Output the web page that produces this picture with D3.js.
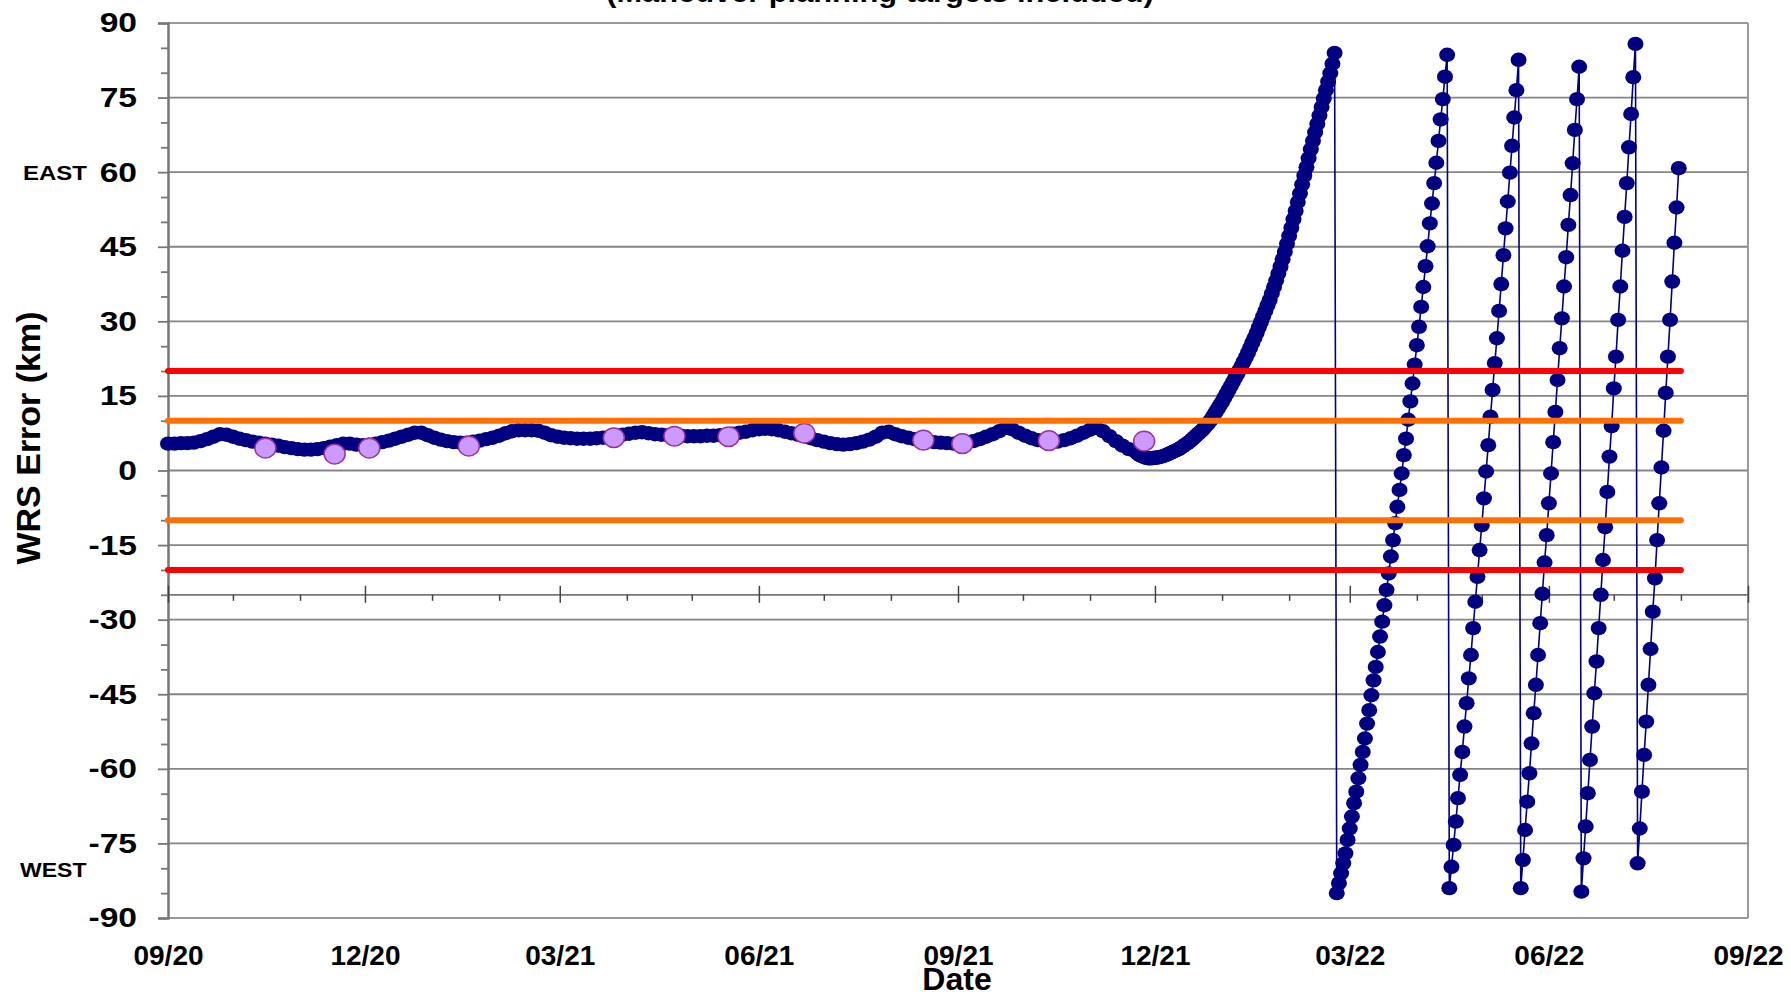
<!DOCTYPE html>
<html>
<head>
<meta charset="utf-8">
<script src="https://cdn.jsdelivr.net/npm/d3@7"></script>
<style>
  body { margin: 0; background: #fff; }
  svg { display: block; font-family: Arial, "Liberation Sans", sans-serif; font-weight: bold; }
</style>
</head>
<body>
<div id="chart"></div>
<script>
// WRS error (km), one value every 3 days from 09/01/2020
const bandStart = '2020-09-01';
const bandStepDays = 3;
const bandValues = [
    5.4, 5.4, 5.5, 5.5, 5.6, 5.9, 6.3, 6.8, 7.3, 7.2,
    6.8, 6.4, 6.1, 5.8, 5.6, 5.4, 5.2, 5.0, 4.7, 4.5,
    4.3, 4.2, 4.2, 4.3, 4.5, 4.8, 5.1, 5.4, 5.4, 5.2,
    5.1, 5.2, 5.4, 5.7, 6.0, 6.4, 6.8, 7.2, 7.6, 7.6,
    7.1, 6.6, 6.2, 5.9, 5.7, 5.6, 5.6, 5.8, 6.0, 6.3,
    6.6, 7.0, 7.5, 7.9, 8.1, 8.1, 8.1, 8.0, 7.6, 7.1,
    6.8, 6.6, 6.5, 6.4, 6.4, 6.4, 6.5, 6.6, 6.8, 7.0,
    7.2, 7.4, 7.6, 7.7, 7.5, 7.3, 7.2, 7.1, 7.0, 7.0,
    6.9, 6.9, 6.9, 7.0, 7.0, 7.1, 7.2, 7.4, 7.6, 7.8,
    8.1, 8.3, 8.4, 8.3, 8.1, 7.8, 7.5, 7.2, 6.9, 6.5,
    6.1, 5.8, 5.5, 5.3, 5.2, 5.3, 5.5, 5.8, 6.2, 6.8,
    7.6, 7.8, 7.3, 6.9, 6.6, 6.3, 6.1, 5.9, 5.7, 5.6,
    5.5, 5.4, 5.4, 5.6, 5.9, 6.3, 6.8, 7.3, 7.9, 8.6,
    8.3, 7.6, 7.0, 6.5, 6.1, 5.8, 5.7, 5.8, 6.1, 6.5,
    7.0, 7.6, 8.2, 8.6, 7.9, 6.9, 5.9, 5.0, 4.3, 3.8
];

// daily values from 11/23/2021: the drift, then each wrap from WEST to EAST
const driftStart = '2021-11-23';
const driftValues = [
    3.4, 3.1, 2.9, 2.7, 2.55, 2.45, 2.45, 2.5, 2.55, 2.6,
    2.7, 2.8, 2.95, 3.1, 3.3, 3.5, 3.7, 3.9, 4.1, 4.3,
    4.6, 4.9, 5.2, 5.5, 5.8, 6.2, 6.6, 7.0, 7.4, 7.8,
    8.2, 8.7, 9.2, 9.7, 10.3, 11.0, 11.7, 12.4, 13.1, 13.8,
    14.6, 15.4, 16.2, 17.0, 17.8, 18.6, 19.4, 20.2, 21.0, 21.9,
    22.8, 23.7, 24.7, 25.7, 26.7, 27.7, 28.8, 29.9, 31.0, 32.1,
    33.2, 34.3, 35.6, 36.9, 38.2, 39.6, 41.0, 42.5, 44.0, 45.6,
    47.2, 48.8, 50.5, 52.2, 54.0, 55.7, 57.5, 59.3, 61.0, 62.8,
    64.6, 66.3, 68.0, 69.7, 71.4, 73.1, 74.8, 76.5, 78.2, 79.9,
    81.8, 84.0
];
const wrap1Values = [
    -85.0, -83.0, -81.0, -79.0, -77.0, -74.3, -72.0, -69.6, -66.9, -64.6,
    -61.9, -59.2, -56.6, -53.9, -50.9, -48.2, -45.2, -42.2, -39.5, -36.5,
    -33.4, -30.4, -27.1, -24.0, -20.7, -17.3, -14.0, -10.6, -7.3, -3.9,
    -0.6, 3.1, 6.4, 10.2, 13.9, 17.5, 21.3, 25.2, 28.9, 32.9,
    36.9, 41.1, 45.1, 49.7, 53.7, 57.8, 61.9, 66.3, 70.6, 74.7,
    79.2, 83.6
];
const wrap2Values = [
    -84.0, -79.7, -75.3, -70.6, -65.9, -61.2, -56.6, -51.5, -46.8, -41.8,
    -37.1, -31.7, -26.4, -21.4, -16.0, -11.0, -5.6, -0.2, 5.1, 10.8,
    16.2, 21.6, 26.6, 32.1, 37.5, 43.3, 48.7, 54.1, 59.9, 65.3,
    71.0, 76.5, 82.6
];
const wrap3Values = [
    -84.0, -78.3, -72.3, -66.6, -60.9, -54.9, -48.8, -43.1, -37.1, -30.7,
    -24.8, -18.5, -13.0, -6.6, -0.6, 5.7, 11.8, 18.2, 24.6, 30.6,
    37.0, 42.9, 49.4, 55.4, 61.8, 68.5, 74.7, 81.2
];
const wrap4Values = [
    -84.7, -78.0, -71.6, -64.9, -58.2, -51.5, -44.8, -38.4, -31.7, -25.0,
    -18.0, -11.4, -4.3, 2.8, 8.9, 16.5, 22.9, 30.3, 37.0, 44.2,
    51.0, 57.8, 65.0, 71.7, 79.1, 85.8
];
const wrap5Values = [
    -79.0, -72.0, -64.6, -57.2, -50.5, -43.1, -35.9, -28.4, -21.7, -14.0,
    -6.6, 0.6, 8.0, 15.6, 22.9, 30.3, 38.0, 45.8, 52.9, 60.8
];

// maneuver planning targets
const targetDates = ['2020-10-16', '2020-11-17', '2020-12-03', '2021-01-18', '2021-03-26', '2021-04-23',
    '2021-05-18', '2021-06-22', '2021-08-16', '2021-09-03', '2021-10-13', '2021-11-26'];
const targetValues = [4.5, 3.3, 4.5, 4.9, 6.6, 6.9, 6.8, 7.5, 6.1, 5.4, 6.0, 5.9];

// tolerance lines
const limitValues = [20, 10, -10, -20];
const limitColors = ['#ff0000', '#ff7000', '#ff7000', '#ff0000'];
const limitStart = '2020-09-01';
const limitEnd = '2022-08-01';

const yTicks = [90, 75, 60, 45, 30, 15, 0, -15, -30, -45, -60, -75, -90];
const xStart = '2020-09-01';
const xEnd = '2022-09-01';
const titleText = '(Maneuver planning targets included)';

const parseDate = d3.timeParse('%Y-%m-%d');

function buildSeries() {
    const rows = [];
    bandValues.forEach((v, i) => {
        rows.push({ date: d3.timeDay.offset(parseDate(bandStart), i * bandStepDays), value: v });
    });
    const daily = [].concat(driftValues, wrap1Values, wrap2Values, wrap3Values, wrap4Values, wrap5Values);
    daily.forEach((v, i) => {
        rows.push({ date: d3.timeDay.offset(parseDate(driftStart), i), value: v });
    });
    return rows;
}

// widen a label a little, the reference text is stretched sideways
function stretch(sel, factor) {
    sel.each(function () {
        const w = this.getComputedTextLength();
        d3.select(this)
            .attr('textLength', w * factor)
            .attr('lengthAdjust', 'spacingAndGlyphs');
    });
}

function drawChart() {
    const width = 1791;
    const height = 992;
    const area = { left: 168, right: 1748, top: 23, bottom: 918 };

    const series = buildSeries();
    const targets = targetDates.map((d, i) => ({ date: parseDate(d), value: targetValues[i] }));

    const xScale = d3.scaleTime()
        .domain([parseDate(xStart), parseDate(xEnd)])
        .range([area.left, area.right]);
    const yScale = d3.scaleLinear().domain([-90, 90]).range([area.bottom, area.top]);

    const svg = d3.select('#chart')
        .append('svg')
        .attr('width', width)
        .attr('height', height);

    // title, mostly cut off at the top of the picture
    svg.append('text')
        .attr('x', 880)
        .attr('y', 2)
        .attr('text-anchor', 'middle')
        .style('font-size', '28px')
        .text(titleText)
        .call(stretch, 1.1);

    // horizontal gridlines
    svg.append('g')
        .selectAll('line')
        .data(yTicks)
        .join('line')
        .attr('x1', area.left)
        .attr('x2', area.right)
        .attr('y1', (d) => yScale(d))
        .attr('y2', (d) => yScale(d))
        .attr('stroke', (d) => (d === 90 || d === -90) ? '#999' : '#858585')
        .attr('stroke-width', 1.8);

    // right border
    svg.append('line')
        .attr('x1', area.right).attr('x2', area.right)
        .attr('y1', area.top).attr('y2', area.bottom)
        .attr('stroke', '#999')
        .attr('stroke-width', 2);

    // y axis with labels, then minor ticks every 5 km
    const yAxis = svg.append('g')
        .attr('transform', `translate(${area.left}, 0)`)
        .call(d3.axisLeft(yScale).tickValues(yTicks).tickSize(10).tickPadding(21)
            .tickFormat((d) => String(d)));
    yAxis.selectAll('text')
        .style('font-size', '28px')
        .style('font-family', 'Arial, "Liberation Sans", sans-serif')
        .style('font-weight', 'bold')
        .attr('fill', '#000')
        .call(stretch, 1.2);
    yAxis.selectAll('line').attr('stroke', '#777').attr('stroke-width', 1.8);
    yAxis.select('.domain').attr('stroke', '#777').attr('stroke-width', 2.5);

    const minorY = d3.range(-90, 91, 5).filter((d) => d % 15 !== 0);
    svg.append('g')
        .attr('transform', `translate(${area.left}, 0)`)
        .call(d3.axisLeft(yScale).tickValues(minorY).tickSize(7).tickFormat(''))
        .call((g) => g.select('.domain').remove())
        .selectAll('line').attr('stroke', '#777').attr('stroke-width', 1.8);

    // date axis crossing at -25 km: quarters cross the line, months hang below
    const axisY = yScale(-25);
    const axisEnd = d3.timeDay.offset(parseDate(xEnd), 1);
    const quarters = d3.timeMonth.range(parseDate(xStart), axisEnd, 3);
    const months = d3.timeMonth.range(parseDate(xStart), axisEnd)
        .filter((d, i) => i % 3 !== 0);

    svg.append('line')
        .attr('x1', area.left).attr('x2', area.right)
        .attr('y1', axisY).attr('y2', axisY)
        .attr('stroke', '#777')
        .attr('stroke-width', 1.8);
    svg.append('g')
        .attr('transform', `translate(0, ${axisY - 9})`)
        .call(d3.axisBottom(xScale).tickValues(quarters).tickSize(17).tickFormat(''))
        .call((g) => g.select('.domain').remove())
        .selectAll('line').attr('stroke', '#444').attr('stroke-width', 1.5);
    svg.append('g')
        .attr('transform', `translate(0, ${axisY})`)
        .call(d3.axisBottom(xScale).tickValues(months).tickSize(6).tickFormat(''))
        .call((g) => g.select('.domain').remove())
        .selectAll('line').attr('stroke', '#444').attr('stroke-width', 1.5);

    // date labels along the bottom
    const xLabels = svg.append('g')
        .attr('transform', `translate(0, ${area.bottom})`)
        .call(d3.axisBottom(xScale).tickValues(quarters).tickSize(0).tickPadding(27)
            .tickFormat(d3.timeFormat('%m/%y')));
    xLabels.select('.domain').remove();
    xLabels.selectAll('text')
        .style('font-size', '28px')
        .style('font-family', 'Arial, "Liberation Sans", sans-serif')
        .style('font-weight', 'bold')
        .attr('fill', '#000');

    // axis titles
    svg.append('text')
        .attr('x', 957)
        .attr('y', 990)
        .attr('text-anchor', 'middle')
        .style('font-size', '32px')
        .text('Date');
    svg.append('text')
        .attr('transform', 'translate(40, 438) rotate(-90)')
        .attr('text-anchor', 'middle')
        .style('font-size', '34px')
        .text('WRS Error (km)');
    svg.append('text')
        .attr('x', 23)
        .attr('y', yScale(60) + 8)
        .style('font-size', '20px')
        .text('EAST')
        .call(stretch, 1.2);
    svg.append('text')
        .attr('x', 20)
        .attr('y', yScale(-75) + 34)
        .style('font-size', '20px')
        .text('WEST')
        .call(stretch, 1.15);

    // WRS error series
    const line = d3.line()
        .x((d) => xScale(d.date))
        .y((d) => yScale(d.value));
    svg.append('path')
        .datum(series)
        .attr('d', line)
        .attr('fill', 'none')
        .attr('stroke', '#000080')
        .attr('stroke-width', 1.6);
    svg.append('g')
        .selectAll('ellipse')
        .data(series)
        .join('ellipse')
        .attr('cx', (d) => xScale(d.date))
        .attr('cy', (d) => yScale(d.value))
        .attr('rx', 8)
        .attr('ry', 7.2)
        .attr('fill', '#000080');

    // maneuver planning targets
    svg.append('g')
        .selectAll('ellipse')
        .data(targets)
        .join('ellipse')
        .attr('cx', (d) => xScale(d.date))
        .attr('cy', (d) => yScale(d.value))
        .attr('rx', 10.5)
        .attr('ry', 9.8)
        .attr('fill', '#cc99ff')
        .attr('stroke', '#993399')
        .attr('stroke-width', 1.5);

    // tolerance lines
    svg.append('g')
        .selectAll('line')
        .data(limitValues)
        .join('line')
        .attr('x1', xScale(parseDate(limitStart)))
        .attr('x2', xScale(parseDate(limitEnd)))
        .attr('y1', (d) => yScale(d))
        .attr('y2', (d) => yScale(d))
        .attr('stroke', (d, i) => limitColors[i])
        .attr('stroke-width', 6)
        .attr('stroke-linecap', 'round');
}

drawChart();
</script>
</body>
</html>
